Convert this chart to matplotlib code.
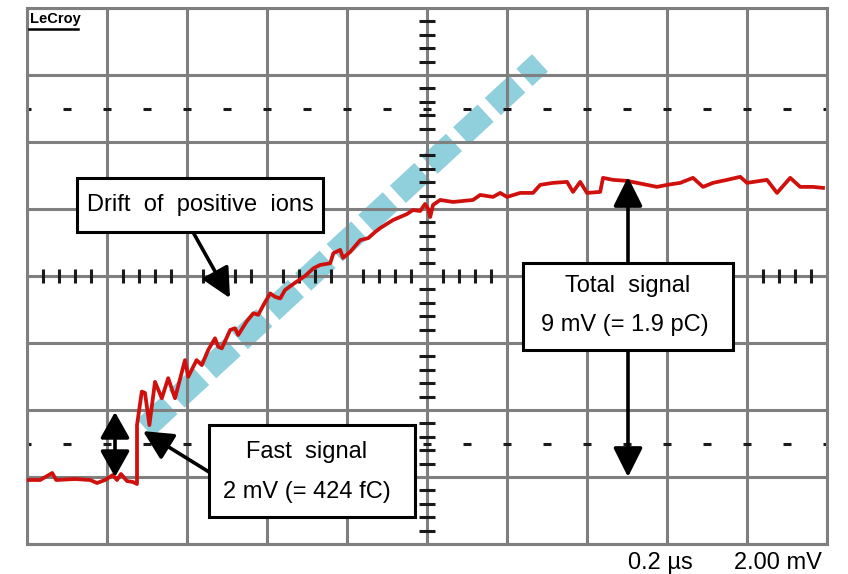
import matplotlib.pyplot as plt
from matplotlib.patches import Rectangle

plt.rcParams['font.family'] = ['Liberation Sans', 'DejaVu Sans']
plt.rcParams['lines.scale_dashes'] = False

# scope settings: 0.2 us/div, 2 mV/div, 10 x 8 divisions
t_div = 0.2
v_div = 2.0

# measured trace (time in us, amplitude in mV)
t_sig = [0.000, 0.033, 0.063, 0.073, 0.120, 0.158, 0.175, 0.195, 0.215, 0.225,
         0.235, 0.250, 0.265, 0.275, 0.275, 0.287, 0.295, 0.306, 0.320, 0.337,
         0.353, 0.370, 0.395, 0.403, 0.424, 0.437, 0.453, 0.470, 0.478, 0.487,
         0.508, 0.520, 0.528, 0.549, 0.566, 0.578, 0.591, 0.608, 0.620, 0.633,
         0.645, 0.662, 0.674, 0.695, 0.716, 0.733, 0.758, 0.766, 0.783, 0.790,
         0.808, 0.833, 0.853, 0.870, 0.883, 0.915, 0.950, 0.965, 0.983, 0.995,
         1.003, 1.008, 1.015, 1.033, 1.065, 1.115, 1.133, 1.165, 1.183, 1.200,
         1.233, 1.265, 1.283, 1.315, 1.350, 1.365, 1.383, 1.400, 1.433, 1.440,
         1.465, 1.500, 1.525, 1.550, 1.575, 1.600, 1.633, 1.665, 1.690, 1.715,
         1.750, 1.783, 1.800, 1.850, 1.875, 1.908, 1.933, 1.965, 1.990]
v_sig = [-6.09, -6.09, -5.88, -6.09, -6.06, -6.09, -6.18, -6.09, -5.94, -6.09,
         -5.91, -6.12, -6.15, -6.21, -4.45, -3.45, -3.49, -4.45, -3.16, -3.65,
         -3.05, -3.65, -2.51, -3.01, -2.51, -2.66, -2.21, -1.86, -2.11, -2.16,
         -1.61, -1.56, -1.76, -1.36, -1.11, -1.16, -0.87, -0.52, -0.62, -0.67,
         -0.42, -0.27, -0.17, 0.00, 0.23, 0.33, 0.38, 0.68, 0.78, 0.54,
         0.72, 1.07, 1.13, 1.31, 1.43, 1.67, 1.85, 1.97, 1.94, 2.15,
         2.00, 1.76, 2.12, 2.27, 2.21, 2.27, 2.42, 2.36, 2.48, 2.36,
         2.48, 2.48, 2.72, 2.78, 2.81, 2.51, 2.81, 2.48, 2.51, 2.93,
         2.87, 2.84, 2.78, 2.72, 2.66, 2.72, 2.78, 2.93, 2.66, 2.78,
         2.87, 2.96, 2.78, 2.87, 2.48, 2.93, 2.66, 2.66, 2.63]

# expected drift of the positive ions (blue band)
t_ion = [0.295, 1.2825]
v_ion = [-4.54, 6.36]

grid_col = '#7f7f7f'
red = '#d0100c'
blue = '#90cfdc'

fig = plt.figure(figsize=(8.48, 5.74), dpi=100)
ax = fig.add_axes([27/848, 30/574, 800/848, 536/574])
ax.set_xlim(0, 10*t_div)
ax.set_ylim(-4*v_div, 4*v_div)
ax.set_xticks([k*t_div for k in range(11)])
ax.set_yticks([(k-4)*v_div for k in range(9)])
ax.grid(True, color=grid_col, lw=2.2)
ax.tick_params(length=0, labelbottom=False, labelleft=False)
for s in ax.spines.values():
    s.set_color(grid_col)
    s.set_linewidth(2.2)

# minor ticks on the centre lines
xt = [k*t_div/5 for k in range(51) if k % 5]
ax.plot(xt, [0]*len(xt), ls='none', marker='|', ms=9.5, mew=2.2, color='#1a1a1a', zorder=2)
yt = [k*v_div/5 - 4*v_div for k in range(41) if k % 5]
ax.plot([5*t_div]*len(yt), yt, ls='none', marker='_', ms=12, mew=2.2, color='#1a1a1a', zorder=2)
# rise time dashes at +/- 2.5 div
xd = [k*t_div/2 for k in range(21)]
for yy in (2.5*v_div, -2.5*v_div):
    ax.plot(xd, [yy]*len(xd), ls='none', marker='_', ms=6, mew=2.2, color='#1a1a1a', zorder=2)

ax.plot(t_ion, v_ion, color=blue, lw=17, dashes=(24, 7), dash_capstyle='butt', zorder=1)
ax.plot(t_sig, v_sig, color=red, lw=2.7, zorder=3)

head = '-|>,head_length=0.9,head_width=0.45'
ap = dict(arrowstyle=head, lw=2.6, color='k', shrinkA=0, shrinkB=0, mutation_scale=20)
ax.annotate('', xy=(0.5075, -0.66), xytext=(0.415, 1.31), arrowprops=ap, zorder=4)
ax.annotate('', xy=(0.29, -4.63), xytext=(0.455, -5.85), arrowprops=ap, zorder=4)
ax.annotate('', xy=(1.5025, 2.955), xytext=(1.5025, 0.39), arrowprops=ap, zorder=4)
ax.annotate('', xy=(1.5025, -6.0), xytext=(1.5025, -2.21), arrowprops=ap, zorder=4)
ap2 = dict(ap, arrowstyle='<|-|>,head_length=0.8,head_width=0.45')
ax.annotate('', xy=(0.22, -4.06), xytext=(0.22, -6.0), arrowprops=ap2, zorder=4)

# label boxes
for x0, y0, w, h in [(0.125, 1.31, 0.615, 1.615),
                     (1.24, -2.21, 0.525, 2.60),
                     (0.455, -7.19, 0.515, 2.74)]:
    ax.add_patch(Rectangle((x0, y0), w, h, fc='white', ec='k', lw=2.2, zorder=5))

fs = 17
ax.text(0.4325, 2.12, 'Drift  of  positive  ions', ha='center', va='center', fontsize=fs, zorder=6)
ax.text(1.5025, -0.30, 'Total  signal', ha='center', va='center', fontsize=fs, zorder=6)
ax.text(1.495, -1.46, '9 mV (= 1.9 pC)', ha='center', va='center', fontsize=fs, zorder=6)
ax.text(0.70, -5.25, 'Fast  signal', ha='center', va='center', fontsize=fs, zorder=6)
ax.text(0.70, -6.45, '2 mV (= 424 fC)', ha='center', va='center', fontsize=fs, zorder=6)

# scope logo
ax.text(0.004, 0.992, 'LeCroy', transform=ax.transAxes, ha='left', va='top',
        fontsize=10.5, fontweight='bold', zorder=6)
ax.plot([0.003, 0.064], [0.961, 0.961], transform=ax.transAxes, color='k', lw=1.8, zorder=6)

fig.text(628/848, 1 - 563/574, '0.2 \u00b5s', ha='left', va='center', fontsize=fs)
fig.text(822/848, 1 - 563/574, '2.00 mV', ha='right', va='center', fontsize=fs)

fig.savefig('out.png', dpi=100)
